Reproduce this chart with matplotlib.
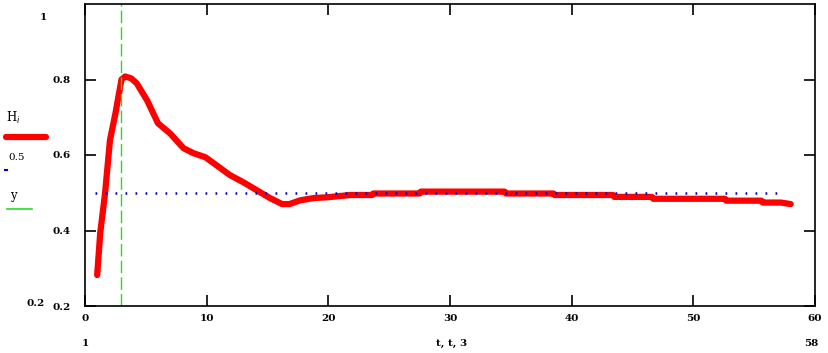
import numpy as np
import matplotlib.pyplot as plt

# red curve H vs t
t = [1.0, 1.25, 1.65, 2.05, 2.5, 3.0, 3.3, 3.8, 4.25, 5.1, 6.0, 7.0, 8.1, 8.9,
     9.9, 10.8, 11.9, 13.0, 14.1, 15.2, 16.2, 16.8, 17.7, 18.8, 19.9, 21.8,
     23.6, 23.7, 27.5, 27.6, 34.5, 34.6, 38.5, 38.6, 43.4, 43.5, 46.6, 46.7,
     52.6, 52.7, 55.6, 55.7, 57.2, 58.0]
H = [0.282, 0.393, 0.499, 0.639, 0.71, 0.80, 0.808, 0.803, 0.79, 0.745, 0.684,
     0.657, 0.618, 0.605, 0.594, 0.573, 0.547, 0.528, 0.507, 0.486, 0.47, 0.47,
     0.48, 0.486, 0.488, 0.494, 0.494, 0.498, 0.498, 0.503, 0.503, 0.498,
     0.498, 0.494, 0.494, 0.489, 0.489, 0.484, 0.484, 0.479, 0.479, 0.474,
     0.474, 0.47]

# reference level and marker time
y_level = 0.5
y_t = [0.8, 57.4]
t_mark = 3

x_ticks = [0, 10, 20, 30, 40, 50, 60]
y_ticks = [0.2, 0.4, 0.6, 0.8]

plt.rcParams['font.family'] = 'DejaVu Serif'
fs = 7.5

fig = plt.figure(figsize=(8.29, 3.53), dpi=100)
ax = fig.add_axes([85/829, 47/353, 730/829, 302/353])

ax.plot(t, H, color='#ff0000', lw=4.5, solid_joinstyle='round',
        solid_capstyle='round')
ax.plot(y_t, [y_level, y_level], color='#0000cc', lw=1.8,
        linestyle=(0, (0.7, 3.3)))
ax.axvline(t_mark, color='#22dd22', lw=1, linestyle=(0, (9, 3)))

ax.set_xlim(0, 60)
ax.set_ylim(0.2, 1.0)
ax.set_xticks(x_ticks)
ax.set_yticks(y_ticks)
ax.set_xticklabels([str(v) for v in x_ticks], fontsize=fs, fontweight='bold')
ax.set_yticklabels([str(v) for v in y_ticks], fontsize=fs, fontweight='bold')
ax.tick_params(direction='in', length=8, width=1.2, top=True, right=True,
               pad=10)
ax.tick_params(axis='x', pad=6)
for s in ax.spines.values():
    s.set_linewidth(1.2)

# axis limit labels and legend like the original worksheet
fig.text(43/829, 1 - 17/353, '1', fontsize=fs, fontweight='bold',
         ha='center', va='center')
fig.text(36/829, 1 - 304/353, '0.2', fontsize=fs, fontweight='bold',
         ha='center', va='center')
fig.text(85/829, 1 - 343/353, '1', fontsize=fs, fontweight='bold',
         ha='center', va='center')
fig.text(811/829, 1 - 343/353, '58', fontsize=fs, fontweight='bold',
         ha='center', va='center')
fig.text(452/829, 1 - 343/353, 't, t, 3', fontsize=fs, fontweight='bold',
         ha='center', va='center')

fig.text(13/829, 1 - 118/353, 'H$_{i}$', fontsize=fs + 1, ha='center',
         va='center')
fig.add_artist(plt.Line2D([6/829, 46/829], [1 - 137/353, 1 - 137/353],
                          color='#ff0000', lw=4.5, solid_capstyle='round'))
fig.text(17/829, 1 - 157/353, '0.5', fontsize=fs, ha='center', va='center')
fig.add_artist(plt.Line2D([5/829, 7/829], [1 - 170/353, 1 - 170/353],
                          color='#0000cc', lw=1.5))
fig.text(13/829, 1 - 195/353, 'y', fontsize=fs + 1, ha='center', va='center')
fig.add_artist(plt.Line2D([7/829, 32/829], [1 - 209/353, 1 - 209/353],
                          color='#22dd22', lw=1.2))

fig.savefig('out.png', dpi=100)
